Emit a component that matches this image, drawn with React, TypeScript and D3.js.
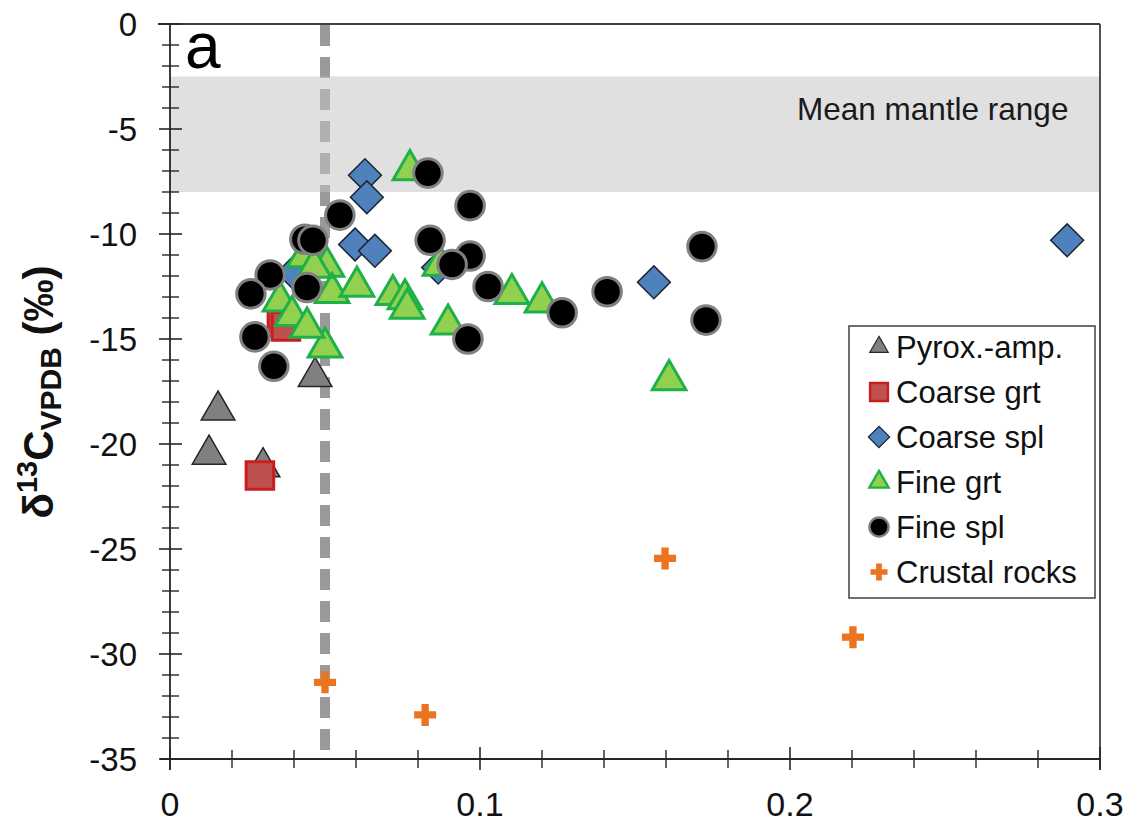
import React from "react";
import * as d3 from "d3";

// x: CO2 content proxy (0-0.3), y: d13C VPDB (permil)
const pyroxX = [0.0155, 0.0126, 0.03, 0.0468];
const pyroxY = [-18.4, -20.5, -21.1, -16.8];

const coarseGrtX = [0.029, 0.0361, 0.0374];
const coarseGrtY = [-21.5, -14.2, -14.4];

const coarseSplX = [0.0629, 0.0635, 0.0597, 0.0661, 0.0397, 0.0865, 0.1561, 0.2894];
const coarseSplY = [-7.2, -8.25, -10.5, -10.8, -11.85, -11.6, -12.3, -10.3];

const fineGrtX = [0.0774, 0.0506, 0.0523, 0.0603, 0.0719, 0.0758, 0.0765, 0.0897, 0.05, 0.1103, 0.12, 0.161, 0.0871, 0.0355, 0.0394, 0.0442, 0.0433, 0.0465];
const fineGrtY = [-6.95, -11.55, -12.8, -12.5, -12.9, -13.1, -13.55, -14.3, -15.4, -12.85, -13.25, -16.95, -11.5, -13.2, -13.9, -14.45, -11.1, -11.6];

const fineSplX = [0.0832, 0.0548, 0.0435, 0.0461, 0.0323, 0.0261, 0.0442, 0.0274, 0.0335, 0.0968, 0.0839, 0.0968, 0.091, 0.1026, 0.0961, 0.1265, 0.141, 0.1716, 0.1729];
const fineSplY = [-7.1, -9.1, -10.25, -10.3, -11.95, -12.85, -12.55, -14.9, -16.3, -8.65, -10.3, -11.05, -11.45, -12.5, -15.0, -13.75, -12.75, -10.6, -14.1];

const crustalX = [0.05, 0.0823, 0.1597, 0.2203];
const crustalY = [-31.35, -32.9, -25.45, -29.2];

const mantleRange = [-8, -2.5];
const cutoffX = 0.05;

const legendNames = ["Pyrox.-amp.", "Coarse grt", "Coarse spl", "Fine grt", "Fine spl", "Crustal rocks"];
const xTickLabels = ["0", "0.1", "0.2", "0.3"];

const FONT = "'Liberation Sans', Arial, sans-serif";

const x = d3.scaleLinear().domain([0, 0.3]).range([170, 1100]);
const y = d3.scaleLinear().domain([-35, 0]).range([759, 24]);

const styles = [
    { shape: d3.symbolTriangle, size: 490, fill: "#808080", stroke: "#262626", sw: 1.5, rot: 0 },
    { shape: d3.symbolSquare, size: 760, fill: "#c0504d", stroke: "#c81e1e", sw: 3, rot: 0 },
    { shape: d3.symbolSquare, size: 540, fill: "#4f81bd", stroke: "#1c2533", sw: 1.5, rot: 45 },
    { shape: d3.symbolTriangle, size: 490, fill: "#92d050", stroke: "#1eb14a", sw: 3, rot: 0 },
    { shape: d3.symbolCircle, size: 640, fill: "#000", stroke: "#808080", sw: 3, rot: 0 },
    { shape: d3.symbolCross, size: 270, fill: "#ec7320", stroke: "none", sw: 0, rot: 0 },
];

const series = [
    [pyroxX, pyroxY],
    [coarseGrtX, coarseGrtY],
    [coarseSplX, coarseSplY],
    [fineGrtX, fineGrtY],
    [fineSplX, fineSplY],
    [crustalX, crustalY],
];

const legendScale = [0.3, 0.42, 0.42, 0.33, 0.45, 0.6];

export default function App() {
    const yMajor = d3.range(-35, 1, 5);
    const yMinor = d3.range(-35, 1, 1).filter((v) => v % 5 !== 0);
    const xMajor = [0, 0.1, 0.2, 0.3];
    const xMinor = d3.range(1, 15).map((i) => i * 0.02).filter((v) => Math.abs((v * 10) % 1) > 0.01 && Math.abs((v * 10) % 1) < 0.99);

    return (
        <svg width={1133} height={823} style={{ position: "absolute", left: 0, top: 0, background: "#fff" }} fontFamily={FONT}>
            {/* dashed cutoff, band drawn over it */}
            <line x1={x(cutoffX)} x2={x(cutoffX)} y1={y(0) + 1} y2={y(-35) - 8} stroke="#9a9a9a" strokeWidth={10} strokeDasharray="21 11" />
            <rect x={x(0)} y={y(mantleRange[1])} width={x(0.3) - x(0)} height={y(mantleRange[0]) - y(mantleRange[1])} fill="rgb(196,196,196)" fillOpacity={0.53} />
            <text x={797} y={120} fontSize={31.5} fill="#1a1a1a">Mean mantle range</text>
            <text x={185} y={68} fontSize={64} fill="#000">a</text>

            {/* frame */}
            <line x1={158} x2={x(0.3)} y1={y(0)} y2={y(0)} stroke="#404040" strokeWidth={1.8} />
            <line x1={x(0.3)} x2={x(0.3)} y1={y(0)} y2={770} stroke="#404040" strokeWidth={1.8} />
            <line x1={x(0)} x2={x(0)} y1={y(0)} y2={770} stroke="#262626" strokeWidth={1.8} />
            <line x1={160} x2={x(0.3)} y1={y(-35)} y2={y(-35)} stroke="#262626" strokeWidth={1.8} />

            {yMajor.map((v) => (
                <g key={"ym" + v}>
                    <line x1={159} x2={182} y1={y(v)} y2={y(v)} stroke="#262626" strokeWidth={1.6} />
                    <text x={137} y={y(v)} dy="0.36em" textAnchor="end" fontSize={33} fill="#111">{v}</text>
                </g>
            ))}
            {yMinor.map((v) => (
                <line key={"yn" + v} x1={162} x2={179} y1={y(v)} y2={y(v)} stroke="#262626" strokeWidth={1.4} />
            ))}
            {xMajor.map((v, i) => (
                <g key={"xm" + v}>
                    <line x1={x(v)} x2={x(v)} y1={747} y2={770} stroke="#262626" strokeWidth={1.6} />
                    <text x={x(v)} y={816} textAnchor="middle" fontSize={34} fill="#111">{xTickLabels[i]}</text>
                </g>
            ))}
            {xMinor.map((v) => (
                <line key={"xn" + v} x1={x(v)} x2={x(v)} y1={750} y2={768} stroke="#262626" strokeWidth={1.4} />
            ))}

            <text transform="translate(53,392) rotate(-90)" textAnchor="middle" fontSize={42} fontWeight="bold" fill="#111">
                δ<tspan dy={-16} fontSize={29}>13</tspan>
                <tspan dy={16}>C</tspan>
                <tspan dy={8} fontSize={30}>VPDB</tspan>
                <tspan dy={-8}> (‰)</tspan>
            </text>

            {series.map(([xs, ys], si) => {
                const st = styles[si];
                const path = d3.symbol(st.shape, st.size)() as string;
                return (
                    <g key={"s" + si}>
                        {xs.map((xv, i) => (
                            <path
                                key={i}
                                d={path}
                                transform={`translate(${x(xv)},${y(ys[i])}) rotate(${st.rot})`}
                                fill={st.fill}
                                stroke={st.stroke}
                                strokeWidth={st.sw}
                                strokeLinejoin="miter"
                            />
                        ))}
                    </g>
                );
            })}

            {/* legend */}
            <rect x={849} y={326} width={246} height={272} fill="#fff" stroke="#404040" strokeWidth={1.5} />
            {legendNames.map((name, i) => {
                const st = styles[i];
                const base = 358 + i * 45;
                const path = d3.symbol(st.shape, st.size * legendScale[i])() as string;
                return (
                    <g key={name}>
                        <path
                            d={path}
                            transform={`translate(879,${base - 11}) rotate(${st.rot})`}
                            fill={st.fill}
                            stroke={st.stroke}
                            strokeWidth={st.sw * 0.8}
                        />
                        <text x={896} y={base} fontSize={31} fill="#111">{name}</text>
                    </g>
                );
            })}
        </svg>
    );
}
